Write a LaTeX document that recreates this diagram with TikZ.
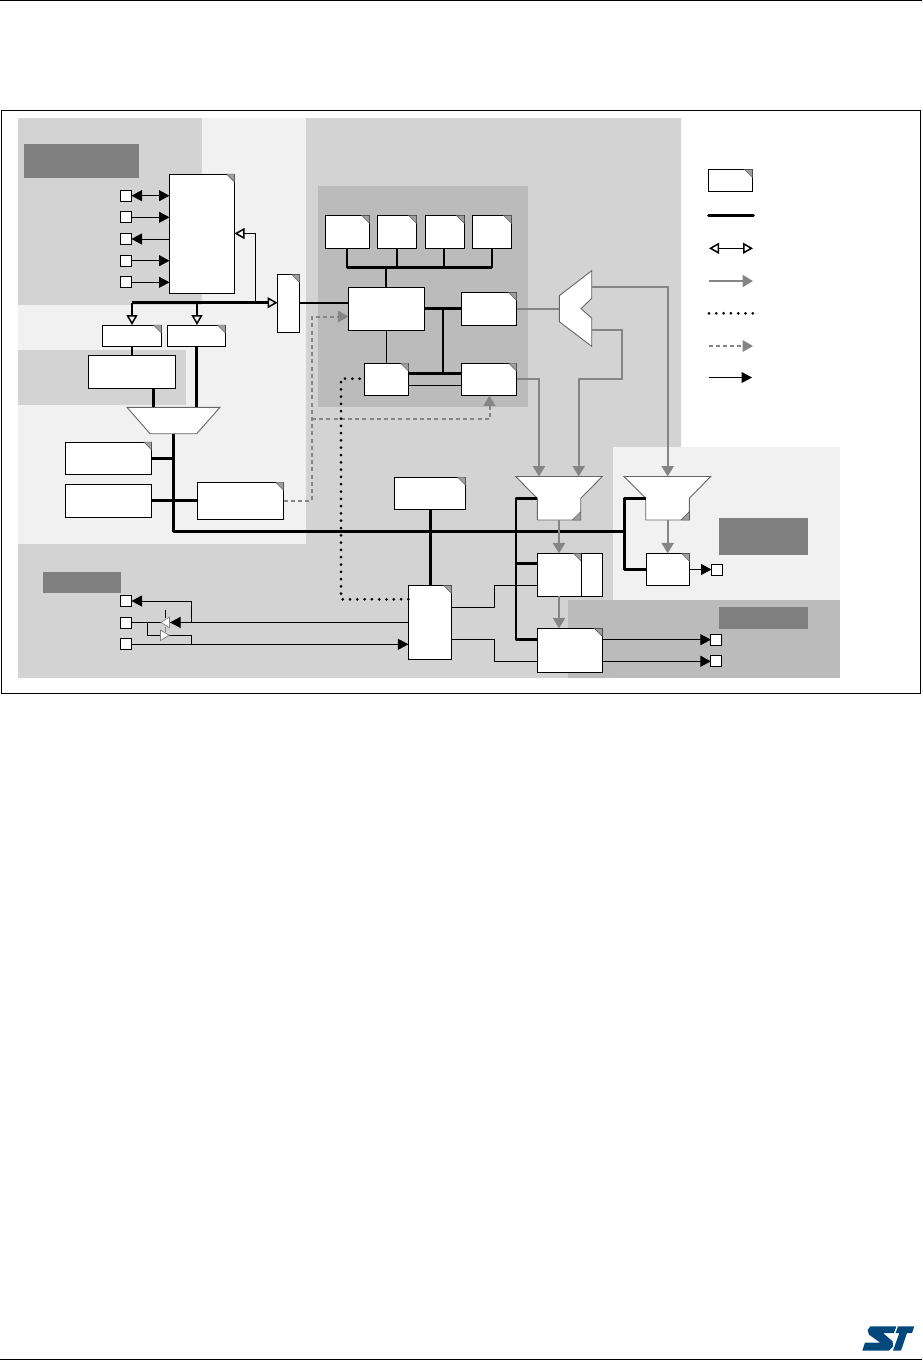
\documentclass[tikz,border=0pt]{standalone}
\usetikzlibrary{arrows.meta,calc}
\definecolor{bgA}{HTML}{D3D3D3}
\definecolor{bgL}{HTML}{F1F1F1}
\definecolor{bgD}{HTML}{BBBBBB}
\definecolor{lab}{HTML}{808080}
\definecolor{gline}{HTML}{858585}
\definecolor{logo}{HTML}{03487C}
\tikzset{
  boxs/.style={draw=black,fill=white,line width=1pt,inner sep=0pt,outer sep=0pt,rectangle},
  pinbox/.style={boxs,minimum width=11pt,minimum height=11pt},
  cornst/.style={fill=gray!75,draw=black!70,line width=0.4pt},
  muxst/.style={fill=white,draw=black!60,line join=miter,line width=0.9pt},
  thk/.style={line width=2.9pt,line join=round,black},
  thn/.style={line width=1pt,black},
  tipb/.style={-{Triangle[length=10.5pt,width=11pt]}},
  tipbb/.style={{Triangle[length=10.5pt,width=11pt]}-{Triangle[length=10.5pt,width=11pt]}},
  tipo/.style={-{Triangle[open,length=10pt,width=11pt,line width=1.5pt]}},
  tipoo/.style={{Triangle[open,length=10pt,width=11pt,line width=1.5pt]}-{Triangle[open,length=10pt,width=11pt,line width=1.5pt]}},
  gar/.style={gline,line width=2.3pt,line join=miter},
  gtip/.style={-{Triangle[length=10.5pt,width=12pt]}},
  gdash/.style={gline,line width=2pt,dash pattern=on 4pt off 3.2pt},
  bdot/.style={black,line width=3pt,line cap=round,dash pattern=on 0pt off 7.3pt},
  labbox/.style={fill=lab},
}
\newcommand{\bx}[5]{\node[boxs,minimum width={(#4-#2)*1pt},minimum height={(#5-#3)*1pt}] (#1) at ({(#2+#4)/2},{(#3+#5)/2}) {};}
\newcommand{\cornmark}[1]{\draw[cornst] ($(#1.north east)+(-8,0)$) -- (#1.north east) -- ($(#1.north east)+(0,8)$) -- cycle;}
\newcommand{\pinb}[3]{\node[pinbox] (#1) at (#2,#3) {};}
\begin{document}
\begin{tikzpicture}[x=1pt,y=-1pt]
\useasboundingbox (0,0) rectangle (922,1361);
% page rules
\draw[line width=1.2pt] (0,0.5) -- (922,0.5);
\draw[line width=1.2pt] (0,1359.6) -- (922,1359.6);
% frame
\draw[line width=1.1pt] (1.3,110.3) rectangle (920.6,693.4);
% backgrounds
\fill[bgL] (18,118) rectangle (306,544);
\fill[bgA] (18,118) rectangle (202,305);
\fill[bgA] (18,350) rectangle (186,405);
\fill[bgA] (306,118) -- (681,118) -- (681,447) -- (613,447) -- (613,544) -- (613,678) -- (18,678) -- (18,544) -- (306,544) -- cycle;
\fill[bgD] (318,186) rectangle (528,407);
\fill[bgL] (613,447) rectangle (840,600);
\fill[bgD] (568,600) rectangle (840,678);
\fill[labbox] (24,144) rectangle (139,178);
\fill[labbox] (43,572) rectangle (121,593);
\fill[labbox] (719,518) rectangle (808,555);
\fill[labbox] (719,607) rectangle (808,629);
% junction coordinates
\coordinate (busL) at (132,302.7);
\coordinate (busA) at (255.7,302.7);
\coordinate (busB) at (197,302.7);
\coordinate (fbk) at (255.7,233.5);
\coordinate (mainV) at (173.5,434);
\coordinate (mainC) at (173.5,531.5);
\coordinate (mainR) at (624.5,531.5);
\coordinate (gdC) at (312,500.5);
\coordinate (gdT) at (312,316.5);
\coordinate (gdM) at (312,419.3);
\coordinate (gdE) at (489.5,419.3);
\coordinate (mbL) at (347,267.7);
\coordinate (mbR) at (492,267.7);
\coordinate (mbC) at (386,267.7);
\coordinate (vT) at (443,308.7);
\coordinate (vB) at (443,373.7);
\coordinate (dotA) at (341,599.3);
\coordinate (dotB) at (341,378.7);
\coordinate (gaT) at (667.7,287);
\coordinate (gaB) at (622,330);
\coordinate (gaC) at (622,379);
\coordinate (gaD) at (578.7,379);
\coordinate (gaK) at (539,379);
\coordinate (dmxI) at (559.3,308.7);
\coordinate (dmxT) at (591.7,287);
\coordinate (dmxB) at (591.7,330);
\coordinate (m2T1) at (539,476.5);
\coordinate (m2T2) at (578.7,476.5);
\coordinate (m3T) at (667.7,476.5);
\coordinate (m2L) at (537.3,498.3);
\coordinate (m2B) at (559,520);
\coordinate (m3L) at (645.7,498.3);
\coordinate (m3B) at (667.7,520);
\coordinate (v2T) at (516,498.3);
\coordinate (v2C) at (516,531.5);
\coordinate (v3T) at (624.5,498.3);
\coordinate (v3B) at (624.5,569.3);
\coordinate (v2L) at (516,563.5);
\coordinate (v2M) at (516,639.5);
\coordinate (muxB) at (153.5,407.3);
\coordinate (muxC) at (196.5,407.3);
\coordinate (t1a) at (494.5,607.3);
\coordinate (t1b) at (494.5,585.3);
\coordinate (t2a) at (494.5,639.5);
\coordinate (t2b) at (494.5,661.3);
\coordinate (vL) at (191.5,601);
\coordinate (vLb) at (191.5,622.4);
\coordinate (vR) at (191.5,635.3);
\coordinate (vRb) at (191.5,644.3);
\coordinate (brA) at (147.5,622.4);
\coordinate (brB) at (147.5,635.3);
\coordinate (bu1t) at (161,622.4);
\coordinate (bu1b) at (170,622.4);
\coordinate (bu2b) at (160.5,635.3);
\coordinate (bu2t) at (169,635.3);
\coordinate (tk1) at (165.5,609.5);
\coordinate (tk2) at (165.5,618);
\coordinate (tk3) at (165,627);
\coordinate (tk4) at (165,632);
% boxes
\bx{A}{169.5}{174}{234.5}{293.3}\cornmark{A}
\bx{F}{277.5}{274.3}{299.5}{332.3}\cornmark{F}
\bx{Ba}{102.3}{325}{161.3}{346.4}\cornmark{Ba}
\bx{Bb}{167.4}{325}{225.4}{346.4}\cornmark{Bb}
\bx{C}{88.4}{355.4}{175.6}{388.4}
\bx{D}{65.4}{442}{151.6}{474.4}\cornmark{D}
\bx{E}{65.4}{484.4}{151.6}{517.4}
\bx{G}{197.4}{482.2}{283.6}{519.4}\cornmark{G}
\bx{Ra}{325.4}{215.4}{369.6}{248.4}\cornmark{Ra}
\bx{Rb}{377.4}{215.4}{416.6}{248.4}\cornmark{Rb}
\bx{Rc}{425.4}{215.4}{464.4}{248.4}\cornmark{Rc}
\bx{Rd}{472.4}{215.4}{511.6}{248.4}\cornmark{Rd}
\bx{H}{348.4}{287.4}{424.6}{330.4}
\bx{I}{461.4}{292.4}{516.6}{325.4}\cornmark{I}
\bx{J}{364.4}{363.2}{408.6}{395.4}\cornmark{J}
\bx{K}{461.4}{363.2}{516.6}{395.4}\cornmark{K}
\bx{P}{394.4}{477.2}{465.6}{509.4}\cornmark{P}
\bx{Q}{408.4}{585.4}{451.6}{659.4}\cornmark{Q}
\bx{L}{537.4}{553.4}{581.2}{596.4}\cornmark{L}
\bx{Lb}{581.2}{553.4}{602.4}{596.4}
\bx{M}{537.4}{628.4}{602.4}{672.4}\cornmark{M}
\bx{N}{646.4}{553.4}{689.6}{585.4}\cornmark{N}
% pins
\pinb{pa}{126}{195.7}\pinb{pb}{126}{217.3}\pinb{pc}{126}{239}\pinb{pd}{126}{260.7}\pinb{pe}{126}{282.3}
\pinb{pf}{126}{601}\pinb{pg}{126}{622.6}\pinb{ph}{126}{644.3}
\pinb{pi}{717}{569.5}\pinb{pj}{716.3}{639.7}\pinb{pk}{716.3}{661.3}
% muxes
\draw[muxst] (127,407.3) -- (220,407.3) -- (196.7,433.7) -- (150,433.7) -- cycle;
\draw[muxst] (515.7,476.5) -- (602.3,476.5) -- (580.7,498.3) -- (580.7,520) -- (537.3,520) -- (537.3,498.3) -- cycle;
\draw[cornst] (580.7,511.7) -- (580.7,520) -- (572.4,520) -- cycle;
\draw[muxst] (624,476.5) -- (710.7,476.5) -- (689.3,498.3) -- (689.3,520) -- (645.7,520) -- (645.7,498.3) -- cycle;
\draw[cornst] (689.3,511.7) -- (689.3,520) -- (681,520) -- cycle;
\draw[muxst] (559.3,295.7) -- (591.7,270.7) -- (591.7,298.3) -- (581,308.7) -- (591.7,318) -- (591.7,346.3) -- (559.3,321.7) -- cycle;
% thin pin arrows
\draw[thn,tipbb] (pa.east) -- (A.west |- pa);
\draw[thn,tipb] (pb.east) -- (A.west |- pb);
\draw[thn,tipb] (A.west |- pc) -- (pc.east);
\draw[thn,tipb] (pd.east) -- (A.west |- pd);
\draw[thn,tipb] (pe.east) -- (A.west |- pe);
% upper bus
\draw[thk,tipo] (busL) -- (F.west |- busL);
\draw[thk,tipo] (busL) -- (Ba.north -| busL);
\draw[thk,tipo] (busB) -- (Bb.north -| busB);
\draw[thn,tipo] (busA) -- (fbk) -- (A.east |- fbk);
\draw[thk] (Ba.south -| busL) -- (C.north -| busL);
\draw[thk] (C.south -| muxB) -- (muxB);
\draw[thk] (Bb.south -| muxC) -- (muxC);
% main bus
\draw[thk] (mainV) -- (mainC) -- (mainR);
\draw[thk] (D.east |- 0,458.5) -- (mainV |- 0,458.5);
\draw[thk] (E.east |- 0,500.3) -- (G.west |- 0,500.3);
% grey dashed
\draw[gdash] (G.east |- gdC) -- (gdC) -- (gdT) -- ($(H.west |- gdT)+(-9,0)$);
\draw[gdash] (gdM) -- (gdE) -- ($(gdE |- K.south)+(0,9)$);
\fill[gline] (H.west |- gdT) -- ++(-10.5,-6) -- ++(0,12) -- cycle;
\fill[gline] (gdE |- K.south) -- ++(-6,10.5) -- ++(12,0) -- cycle;
% matrix
\draw[thk] (F.east |- 0,303) -- (H.west |- 0,303);
\draw[thk] (mbL) -- (mbR);
\draw[thk] (Ra.south -| mbL) -- (mbL);
\draw[thk] (Rb.south) -- (Rb.south |- mbL);
\draw[thk] (Rc.south -| 444,0) -- (444,267.7);
\draw[thk] (Rd.south -| mbR) -- (mbR);
\draw[thk] (mbC) -- (H.north -| mbC);
\draw[thk] (H.east |- vT) -- (I.west |- vT);
\draw[thk] (vT) -- (vB);
\draw[thk] (J.east |- vB) -- (K.west |- vB);
\draw[thn] (J.east |- 0,385.4) -- (K.west |- 0,385.4);
\draw[thn] (H.south -| 386.5,0) -- (J.north -| 386.5,0);
% grey
\draw[gar] (I.east |- dmxI) -- (dmxI);
\draw[gar,gtip] (K.east |- gaK) -- (gaK) -- (m2T1);
\draw[gar,gtip] (dmxT) -- (gaT) -- (m3T);
\draw[gar,gtip] (dmxB) -- (gaB) -- (gaC) -- (gaD) -- (m2T2);
\draw[gar,gtip] (m2B) -- (L.north -| m2B);
\draw[gar,gtip] (L.south -| m2B) -- (M.north -| m2B);
\draw[gar,gtip] (m3B) -- (N.north -| m3B);
% thick right
\draw[thk] (m2L) -- (v2T) -- (v2M) -- (M.west |- v2M);
\draw[thk] (v2L) -- (L.west |- v2L);
\draw[thk] (m3L) -- (v3T) -- (v3B) -- (N.west |- v3B);
\draw[thk] (P.south -| 430.5,0) -- (Q.north -| 430.5,0);
% dotted
\draw[bdot] (Q.west |- dotA) -- (dotA) -- (dotB) -- (J.west |- dotB);
% thin Q connectors
\draw[thn] (Q.east |- t1a) -- (t1a) -- (t1b) -- (L.west |- t1b);
\draw[thn] (Q.east |- t2a) -- (t2a) -- (t2b) -- (M.west |- t2b);
% right pins
\draw[thn,tipb] (N.east |- pi) -- (pi.west);
\draw[thn,tipb] (M.east |- pj) -- (pj.west);
\draw[thn,tipb] (M.east |- pk) -- (pk.west);
% lower left
\draw[thn,tipb] (vLb) -- (vL) -- (pf.east);
\draw[thn,tipb] (Q.west |- vLb) -- (bu1b);
\draw[thn,tipb] (ph.east) -- (Q.west |- ph);
\draw[thn] (vRb) -- (vR) -- (bu2t);
\draw[thn] (pg.east |- bu1t) -- (bu1t);
\draw[thn] (brA) -- (brB) -- (bu2b);
\draw[thn] (tk1) -- (tk2);
\draw[gline,line width=1pt] (tk3) -- (tk4);
\draw[fill=white,draw=gray,line width=0.7pt] (bu1t) -- (169.5,617) -- (169.5,627.8) -- cycle;
\draw[fill=white,draw=gray,line width=0.7pt] (bu2t) -- (160.5,630) -- (160.5,640.6) -- cycle;
% legend
\bx{Lg}{708.4}{169.4}{752.6}{191.2}\cornmark{Lg}
\coordinate (la) at (708.5,215.3);\coordinate (lb) at (753.5,215.3);
\draw[thk,line cap=round] (la) -- (lb);
\coordinate (lc) at (709,248.3);\coordinate (ld) at (753,248.3);
\draw[thn,tipoo] (lc) -- (ld);
\coordinate (le) at (708.5,281);\coordinate (lf) at (753,281);
\draw[gar,gtip] (le) -- (lf);
\coordinate (lg) at (709,313.3);\coordinate (lh) at (753,313.3);
\draw[bdot] (lg) -- (lh);
\coordinate (li) at (708.5,346);\coordinate (lj) at (744,346);\coordinate (lk) at (753,346);
\draw[gdash] (li) -- (lj);
\fill[gline] (lk) -- ++(-10.5,-6) -- ++(0,12) -- cycle;
\coordinate (ll) at (708.5,377.5);\coordinate (lm) at (752,377.5);
\draw[thn,tipb] (ll) -- (lm);
% logo
\begin{scope}[shift={(855,1318)},x=0.3333pt,y=-0.3333pt]
\fill[logo] (46,25) -- (124,25) -- (117,45) -- (84,45) -- (113,70) -- (114,86) -- (102,98) -- (22,98) -- (30,74) -- (76,74) -- (42,50) -- (38,36) -- cycle;
\fill[logo] (129,25) -- (178,25) -- (171,45) -- (156,45) -- (138,98) -- (114,98) -- (133,45) -- (122,45) -- cycle;
\end{scope}
\end{tikzpicture}
\end{document}
